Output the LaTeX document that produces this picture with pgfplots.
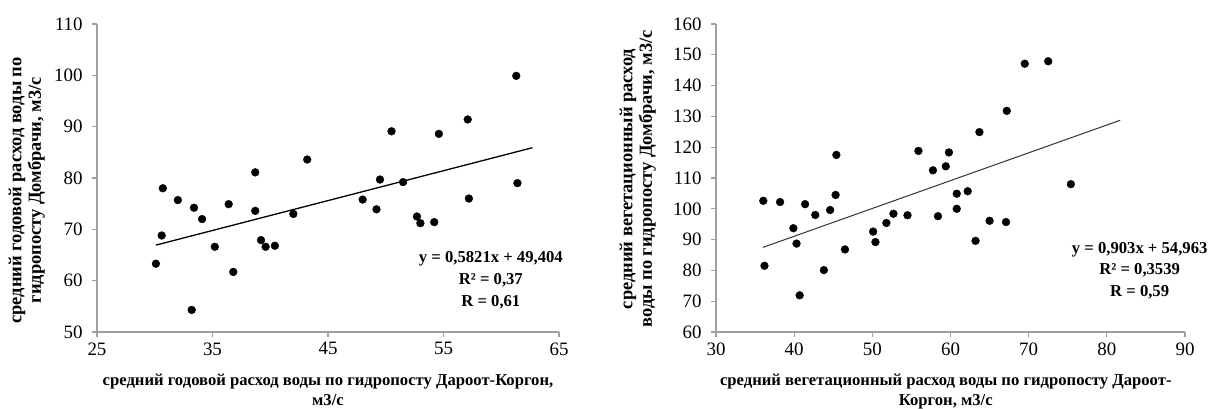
\documentclass[border=0pt]{standalone}
\usepackage{fontspec}
\setmainfont{Liberation Serif}
\usepackage{pgfplots}
\pgfplotsset{compat=1.18}
\definecolor{axisgray}{HTML}{A0A0A0}
\pgfplotsset{myax/.style={
  scale only axis, axis lines=left,
  axis line style={axisgray, line width=1.1pt, -},
  tick style={axisgray, line width=1.1pt}, tick align=outside, major tick length=5bp,
  tick label style={font=\fontsize{19}{19}\selectfont},
  yticklabel style={xshift=-6bp},
  xticklabel style={yshift=-2bp},
  /pgf/number format/assume math mode=true,
  xlabel style={font=\fontsize{16.7}{20}\selectfont\bfseries, align=center},
  ylabel style={font=\fontsize{18.5}{19.5}\selectfont\bfseries, align=center},
  minor tick num=0, clip=false,
}}
\begin{document}
\begin{tikzpicture}
\path[use as bounding box] (0,0) rectangle (1211bp,409bp);
\begin{axis}[myax, at={(97bp,77bp)}, anchor=south west, width=462bp, height=308bp,
  xmin=25, xmax=65, ymin=50, ymax=110,
  xtick={25,35,45,55,65}, ytick={50,60,...,110},
  xlabel={средний  годовой расход воды по гидропосту  Дароот-Коргон,\\м3/с},
  ylabel={средний  годовой расход воды по\\гидропосту  Домбрачи,  м3/с},
  xlabel style={at={(axis description cs:0.5,-0.125)}, anchor=north},
  ylabel style={at={(axis description cs:-0.152,0.46)}, anchor=center},
]
\addplot[only marks, mark=*, mark size=3.9bp, black] coordinates {
(30.1,63.3) (30.6,68.8) (30.7,78.0) (32.0,75.7) (33.4,74.2) (33.2,54.3)
(34.1,72.0) (35.2,66.6) (36.4,74.9) (36.8,61.7) (38.7,81.1) (38.7,73.6)
(39.2,67.9) (39.6,66.6) (40.4,66.8) (42.0,73.0) (43.2,83.6) (48.0,75.8)
(49.2,73.9) (49.5,79.7) (50.5,89.1) (51.5,79.2) (52.7,72.5) (53.0,71.2)
(54.2,71.4) (54.6,88.6) (57.1,91.4) (57.2,76.0) (61.3,99.9) (61.4,79.0)
};
\addplot[black, line width=1.3bp, no marks] coordinates {(30.1,66.925) (62.7,85.902)};
\node[font=\fontsize{16.7}{22}\selectfont\bfseries, align=center] at (axis cs:59.1,60.1)
  {y = 0,5821x + 49,404\\R² = 0,37\\R = 0,61};
\end{axis}
\begin{axis}[myax, at={(716bp,77bp)}, anchor=south west, width=469bp, height=308bp,
  xmin=30, xmax=90, ymin=60, ymax=160,
  xtick={30,40,...,90}, ytick={60,70,...,160},
  xlabel={средний  вегетационный расход воды по гидропосту Дароот-\\Коргон, м3/с},
  ylabel={средний  вегетационный расход\\воды по гидропосту  Домбрачи, м3/с},
  xlabel style={at={(axis description cs:0.49,-0.125)}, anchor=north},
  ylabel style={at={(axis description cs:-0.167,0.497)}, anchor=center},
]
\addplot[only marks, mark=*, mark size=3.9bp, black] coordinates {
(36.05,102.6) (36.2,81.5) (38.2,102.2) (39.9,93.7) (40.3,88.7) (40.7,71.9)
(41.4,101.5) (42.7,98.0) (43.8,80.1) (44.6,99.6) (45.3,104.5) (45.4,117.5)
(46.5,86.8) (50.1,92.6) (50.4,89.2) (51.8,95.4) (52.7,98.4) (54.5,97.9)
(55.9,118.8) (57.75,112.5) (58.4,97.6) (59.4,113.8) (59.8,118.3) (60.8,104.9)
(60.8,100.0) (62.2,105.7) (63.2,89.6) (63.7,124.9) (65.0,96.1) (67.1,95.7)
(67.2,131.8) (69.5,147.1) (72.5,147.9) (75.4,108.0)
};
\addplot[black!80, line width=1bp, no marks] coordinates {(36,87.471) (81.7,128.738)};
\node[font=\fontsize{16.7}{22}\selectfont\bfseries, align=center] at (axis cs:84.2,79.9)
  {y = 0,903x + 54,963\\R² = 0,3539\\R = 0,59};
\end{axis}
\end{tikzpicture}
\end{document}
